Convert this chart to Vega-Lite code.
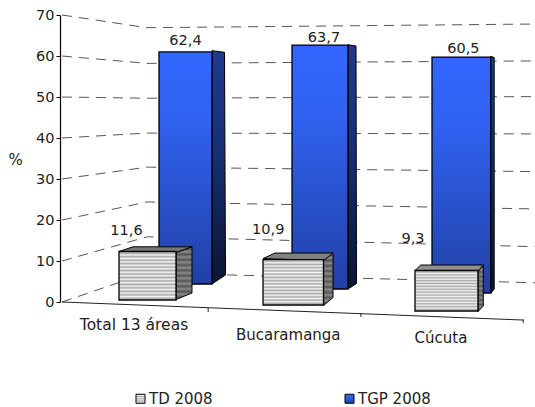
{"$schema":"https://vega.github.io/schema/vega-lite/v6.json","width":535,"height":407,"padding":0,"autosize":{"type":"none"},"background":"white","config":{"view":{"stroke":null},"font":"DejaVu Sans","text":{"font":"DejaVu Sans","fontSize":14.5,"color":"#222"}},
"params":[
{"name":"azul","value":{"gradient":"linear","x1":0,"y1":0,"x2":0,"y2":1,"stops":[{"offset":0,"color":"#3366ff"},{"offset":0.3,"color":"#3061ef"},{"offset":1,"color":"#2040a4"}]}},
{"name":"azulLado","value":{"gradient":"linear","x1":0,"y1":0,"x2":0,"y2":1,"stops":[{"offset":0,"color":"#1f3a8e"},{"offset":0.4,"color":"#18307a"},{"offset":1,"color":"#0a1433"}]}},
{"name":"rayas","value":{"gradient":"linear","x1":0,"y1":0,"x2":0,"y2":1,"stops":[{"offset":0,"color":"#f4f4f4"},{"offset":0.0357,"color":"#a8a8a8"},{"offset":0.0714,"color":"#f4f4f4"},{"offset":0.1071,"color":"#a8a8a8"},{"offset":0.1429,"color":"#f4f4f4"},{"offset":0.1786,"color":"#a8a8a8"},{"offset":0.2143,"color":"#f4f4f4"},{"offset":0.25,"color":"#a8a8a8"},{"offset":0.2857,"color":"#f4f4f4"},{"offset":0.3214,"color":"#a8a8a8"},{"offset":0.3571,"color":"#f4f4f4"},{"offset":0.3929,"color":"#a8a8a8"},{"offset":0.4286,"color":"#f4f4f4"},{"offset":0.4643,"color":"#a8a8a8"},{"offset":0.5,"color":"#f4f4f4"},{"offset":0.5357,"color":"#a8a8a8"},{"offset":0.5714,"color":"#f4f4f4"},{"offset":0.6071,"color":"#a8a8a8"},{"offset":0.6429,"color":"#f4f4f4"},{"offset":0.6786,"color":"#a8a8a8"},{"offset":0.7143,"color":"#f4f4f4"},{"offset":0.75,"color":"#a8a8a8"},{"offset":0.7857,"color":"#f4f4f4"},{"offset":0.8214,"color":"#a8a8a8"},{"offset":0.8571,"color":"#f4f4f4"},{"offset":0.8929,"color":"#a8a8a8"},{"offset":0.9286,"color":"#f4f4f4"},{"offset":0.9643,"color":"#a8a8a8"},{"offset":1,"color":"#f4f4f4"}]}},
{"name":"rayasLado","value":{"gradient":"linear","x1":0,"y1":0,"x2":0,"y2":1,"stops":[{"offset":0,"color":"#8a8a8a"},{"offset":0.05,"color":"#555555"},{"offset":0.1,"color":"#8a8a8a"},{"offset":0.15,"color":"#555555"},{"offset":0.2,"color":"#8a8a8a"},{"offset":0.25,"color":"#555555"},{"offset":0.3,"color":"#8a8a8a"},{"offset":0.35,"color":"#555555"},{"offset":0.4,"color":"#8a8a8a"},{"offset":0.45,"color":"#555555"},{"offset":0.5,"color":"#8a8a8a"},{"offset":0.55,"color":"#555555"},{"offset":0.6,"color":"#8a8a8a"},{"offset":0.65,"color":"#555555"},{"offset":0.7,"color":"#8a8a8a"},{"offset":0.75,"color":"#555555"},{"offset":0.8,"color":"#8a8a8a"},{"offset":0.85,"color":"#555555"},{"offset":0.9,"color":"#8a8a8a"},{"offset":0.95,"color":"#555555"},{"offset":1,"color":"#8a8a8a"}]}}
],
"datasets":{
"bars":[{"area":"Total 13 áreas","serie":"TD 2008","valor":11.6},{"area":"Total 13 áreas","serie":"TGP 2008","valor":62.4},{"area":"Bucaramanga","serie":"TD 2008","valor":10.9},{"area":"Bucaramanga","serie":"TGP 2008","valor":63.7},{"area":"Cúcuta","serie":"TD 2008","valor":9.3},{"area":"Cúcuta","serie":"TGP 2008","valor":60.5}],
"rejilla":[{"nivel":70,"pos":0,"val":70},{"nivel":70,"pos":0.18,"val":66.9},{"nivel":70,"pos":1,"val":67.8},{"nivel":60,"pos":0,"val":60},{"nivel":60,"pos":0.18,"val":58.2},{"nivel":60,"pos":1,"val":58.8},{"nivel":50,"pos":0,"val":50},{"nivel":50,"pos":0.18,"val":49.7},{"nivel":50,"pos":1,"val":50.1},{"nivel":40,"pos":0,"val":40},{"nivel":40,"pos":0.18,"val":41.2},{"nivel":40,"pos":1,"val":41},{"nivel":30,"pos":0,"val":30},{"nivel":30,"pos":0.18,"val":32.9},{"nivel":30,"pos":1,"val":31.8},{"nivel":20,"pos":0,"val":20},{"nivel":20,"pos":0.18,"val":24.4},{"nivel":20,"pos":1,"val":22.7},{"nivel":10,"pos":0,"val":10},{"nivel":10,"pos":0.18,"val":15.9},{"nivel":10,"pos":1,"val":13.5},{"nivel":0,"pos":0,"val":0},{"nivel":0,"pos":0.18,"val":7.1},{"nivel":0,"pos":1,"val":4.7}],
"piso":[{"pos":0,"val":0},{"pos":0.975,"val":-4.4}],
"marcas":[{"pos":0.309,"a":-1.46,"b":-2.44},{"pos":0.632,"a":-2.7,"b":-3.66},{"pos":0.975,"a":-4.2,"b":-5.1}]
},
"resolve":{"scale":{"x":"independent","y":"independent"}},
"layer":[
{"layer":[
{"data":{"name":"rejilla"},"mark":{"type":"line","stroke":"#555","strokeWidth":1,"strokeDash":[10,7]},"encoding":{"x":{"field":"pos","type":"quantitative","axis":null,"scale":{"domain":[0,1],"range":[62,535]}},"y":{"field":"val","type":"quantitative","scale":{"domain":[0,70],"range":[302,15],"nice":false},"axis":{"orient":"left","offset":-60,"values":[0,10,20,30,40,50,60,70],"grid":false,"title":"%","titleAngle":0,"titleFontWeight":"normal","titleFont":"DejaVu Sans","titleFontSize":15,"titleColor":"#222","titleX":-45,"titleY":167,"titleAlign":"center","labelFont":"DejaVu Sans","labelFontSize":14.5,"labelColor":"#222","labelPadding":2,"tickSize":4,"tickColor":"#000","domainColor":"#000","domainWidth":1.2}},"detail":{"field":"nivel"},"order":{"field":"pos"}}},
{"data":{"name":"piso"},"mark":{"type":"line","stroke":"#222","strokeWidth":1},"encoding":{"x":{"field":"pos","type":"quantitative"},"y":{"field":"val","type":"quantitative"}}},
{"data":{"name":"marcas"},"mark":{"type":"rule","stroke":"#222","strokeWidth":1},"encoding":{"x":{"field":"pos","type":"quantitative"},"y":{"field":"a","type":"quantitative"},"y2":{"field":"b"}}}
]},
{"data":{"name":"bars"},"transform":[{"filter":"datum.area==='Total 13 áreas' && datum.serie==='TGP 2008'"},{"calculate":"replace(format(datum.valor,'.1f'),'.',',')","as":"etiqueta"}],"encoding":{"x":{"field":"area","type":"nominal","axis":null,"scale":{"type":"band","domain":["Total 13 áreas"],"range":[159,212],"paddingInner":0,"paddingOuter":0}},"y":{"field":"valor","type":"quantitative","axis":null,"scale":{"domain":[0,70],"range":[284,23.7],"nice":false}}},"layer":[
{"mark":{"type":"point","shape":"M0 -1.3 L12.5 0.3 L13.5 223 L0 232 Z","size":4,"filled":true,"opacity":1,"fill":{"expr":"azulLado"},"stroke":"#000","strokeWidth":1},"encoding":{"x":{"field":"area","type":"nominal","bandPosition":1}}},
{"mark":{"type":"bar","stroke":"#000","strokeWidth":1.3},"encoding":{"y":{"field":"valor","type":"quantitative","stack":null},"color":{"field":"serie","type":"nominal","scale":{"domain":["TD 2008","TGP 2008"],"range":[{"signal":"rayas"},{"signal":"azul"}]},"legend":{"orient":"none","legendX":133,"legendY":391,"title":null,"columns":2,"columnPadding":129,"symbolType":"square","symbolSize":81,"symbolStrokeColor":"#000","symbolStrokeWidth":1,"labelFont":"DejaVu Sans","labelFontSize":15,"labelColor":"#222","labelOffset":1,"symbolOpacity":1}}}},
{"mark":{"type":"text","dx":0,"dy":-10.5,"baseline":"middle"},"encoding":{"text":{"field":"etiqueta"}}}
]},
{"data":{"name":"bars"},"transform":[{"filter":"datum.area==='Bucaramanga' && datum.serie==='TGP 2008'"},{"calculate":"replace(format(datum.valor,'.1f'),'.',',')","as":"etiqueta"}],"encoding":{"x":{"field":"area","type":"nominal","axis":null,"scale":{"type":"band","domain":["Bucaramanga"],"range":[292,348],"paddingInner":0,"paddingOuter":0}},"y":{"field":"valor","type":"quantitative","axis":null,"scale":{"domain":[0,70],"range":[289,20.9],"nice":false}}},"layer":[
{"mark":{"type":"point","shape":"M0 -0.3 L8 1 L8.5 238.5 L0 244 Z","size":4,"filled":true,"opacity":1,"fill":{"expr":"azulLado"},"stroke":"#000","strokeWidth":1},"encoding":{"x":{"field":"area","type":"nominal","bandPosition":1}}},
{"mark":{"type":"bar","stroke":"#000","strokeWidth":1.3},"encoding":{"y":{"field":"valor","type":"quantitative","stack":null},"color":{"field":"serie","type":"nominal"}}},
{"mark":{"type":"text","dx":4,"dy":-6.7,"baseline":"middle"},"encoding":{"text":{"field":"etiqueta"}}}
]},
{"data":{"name":"bars"},"transform":[{"filter":"datum.area==='Cúcuta' && datum.serie==='TGP 2008'"},{"calculate":"replace(format(datum.valor,'.1f'),'.',',')","as":"etiqueta"}],"encoding":{"x":{"field":"area","type":"nominal","axis":null,"scale":{"type":"band","domain":["Cúcuta"],"range":[432,490.7],"paddingInner":0,"paddingOuter":0}},"y":{"field":"valor","type":"quantitative","axis":null,"scale":{"domain":[0,70],"range":[293,20],"nice":false}}},"layer":[
{"mark":{"type":"point","shape":"M0 -0.7 L3.5 0.5 L3.5 232 L0 236.3 Z","size":4,"filled":true,"opacity":1,"fill":{"expr":"azulLado"},"stroke":"#000","strokeWidth":1},"encoding":{"x":{"field":"area","type":"nominal","bandPosition":1}}},
{"mark":{"type":"bar","stroke":"#000","strokeWidth":1.3},"encoding":{"y":{"field":"valor","type":"quantitative","stack":null},"color":{"field":"serie","type":"nominal"}}},
{"mark":{"type":"text","dx":2,"dy":-8,"baseline":"middle"},"encoding":{"text":{"field":"etiqueta"}}}
]},
{"data":{"name":"bars"},"transform":[{"filter":"datum.area==='Total 13 áreas' && datum.serie==='TD 2008'"},{"calculate":"replace(format(datum.valor,'.1f'),'.',',')","as":"etiqueta"}],"encoding":{"x":{"field":"area","type":"nominal","axis":null,"scale":{"type":"band","domain":["Total 13 áreas"],"range":[119,176],"paddingInner":0,"paddingOuter":0}},"y":{"field":"valor","type":"quantitative","axis":null,"scale":{"domain":[0,70],"range":[300,7.4],"nice":false}}},"layer":[
{"mark":{"type":"point","shape":"M0 1 L16 -5 L16 41.5 L0 48 Z","size":4,"filled":true,"opacity":1,"fill":{"expr":"rayasLado"},"stroke":"#000","strokeWidth":1},"encoding":{"x":{"field":"area","type":"nominal","bandPosition":1}}},
{"mark":{"type":"point","shape":"M0 0 L14 -4.7 L73 -4.7 L57 1 Z","size":4,"filled":true,"opacity":1,"fill":"#777","stroke":"#000","strokeWidth":1},"encoding":{"x":{"field":"area","type":"nominal","bandPosition":0}}},
{"mark":{"type":"bar","stroke":"#000","strokeWidth":1.3},"encoding":{"y":{"field":"valor","type":"quantitative","stack":null},"color":{"field":"serie","type":"nominal"}}},
{"mark":{"type":"text","dx":-21,"dy":-21,"baseline":"middle"},"encoding":{"text":{"field":"etiqueta"}}},
{"mark":{"type":"text","fontSize":15.5,"dx":-13.5,"dy":25,"baseline":"middle"},"encoding":{"y":{"datum":0,"type":"quantitative"},"text":{"field":"area"}}}
]},
{"data":{"name":"bars"},"transform":[{"filter":"datum.area==='Bucaramanga' && datum.serie==='TD 2008'"},{"calculate":"replace(format(datum.valor,'.1f'),'.',',')","as":"etiqueta"}],"encoding":{"x":{"field":"area","type":"nominal","axis":null,"scale":{"type":"band","domain":["Bucaramanga"],"range":[263,323.5],"paddingInner":0,"paddingOuter":0}},"y":{"field":"valor","type":"quantitative","axis":null,"scale":{"domain":[0,70],"range":[305,13],"nice":false}}},"layer":[
{"mark":{"type":"point","shape":"M0 0.5 L9.5 -7 L9.5 38 L0 46 Z","size":4,"filled":true,"opacity":1,"fill":{"expr":"rayasLado"},"stroke":"#000","strokeWidth":1},"encoding":{"x":{"field":"area","type":"nominal","bandPosition":1}}},
{"mark":{"type":"point","shape":"M0 -1 L12 -6.5 L70 -6.5 L60.5 1 Z","size":4,"filled":true,"opacity":1,"fill":"#808080","stroke":"#000","strokeWidth":1},"encoding":{"x":{"field":"area","type":"nominal","bandPosition":0}}},
{"mark":{"type":"bar","stroke":"#000","strokeWidth":1.3},"encoding":{"y":{"field":"valor","type":"quantitative","stack":null},"color":{"field":"serie","type":"nominal"}}},
{"mark":{"type":"text","dx":-25,"dy":-29.5,"baseline":"middle"},"encoding":{"text":{"field":"etiqueta"}}},
{"mark":{"type":"text","fontSize":15,"dx":-5,"dy":30,"baseline":"middle"},"encoding":{"y":{"datum":0,"type":"quantitative"},"text":{"field":"area"}}}
]},
{"data":{"name":"bars"},"transform":[{"filter":"datum.area==='Cúcuta' && datum.serie==='TD 2008'"},{"calculate":"replace(format(datum.valor,'.1f'),'.',',')","as":"etiqueta"}],"encoding":{"x":{"field":"area","type":"nominal","axis":null,"scale":{"type":"band","domain":["Cúcuta"],"range":[415,478],"paddingInner":0,"paddingOuter":0}},"y":{"field":"valor","type":"quantitative","axis":null,"scale":{"domain":[0,70],"range":[311,6.3],"nice":false}}},"layer":[
{"mark":{"type":"point","shape":"M0 0.8 L5.3 -5.5 L5.3 35.5 L0 41 Z","size":4,"filled":true,"opacity":1,"fill":{"expr":"rayasLado"},"stroke":"#000","strokeWidth":1},"encoding":{"x":{"field":"area","type":"nominal","bandPosition":1}}},
{"mark":{"type":"point","shape":"M0 0 L5.7 -5.5 L68.3 -5.5 L63 0.8 Z","size":4,"filled":true,"opacity":1,"fill":"#909090","stroke":"#000","strokeWidth":1},"encoding":{"x":{"field":"area","type":"nominal","bandPosition":0}}},
{"mark":{"type":"bar","stroke":"#000","strokeWidth":1.3},"encoding":{"y":{"field":"valor","type":"quantitative","stack":null},"color":{"field":"serie","type":"nominal"}}},
{"mark":{"type":"text","dx":-33.5,"dy":-32,"baseline":"middle"},"encoding":{"text":{"field":"etiqueta"}}},
{"mark":{"type":"text","fontSize":15,"dx":-5.5,"dy":27,"baseline":"middle"},"encoding":{"y":{"datum":0,"type":"quantitative"},"text":{"field":"area"}}}
]}
]}
